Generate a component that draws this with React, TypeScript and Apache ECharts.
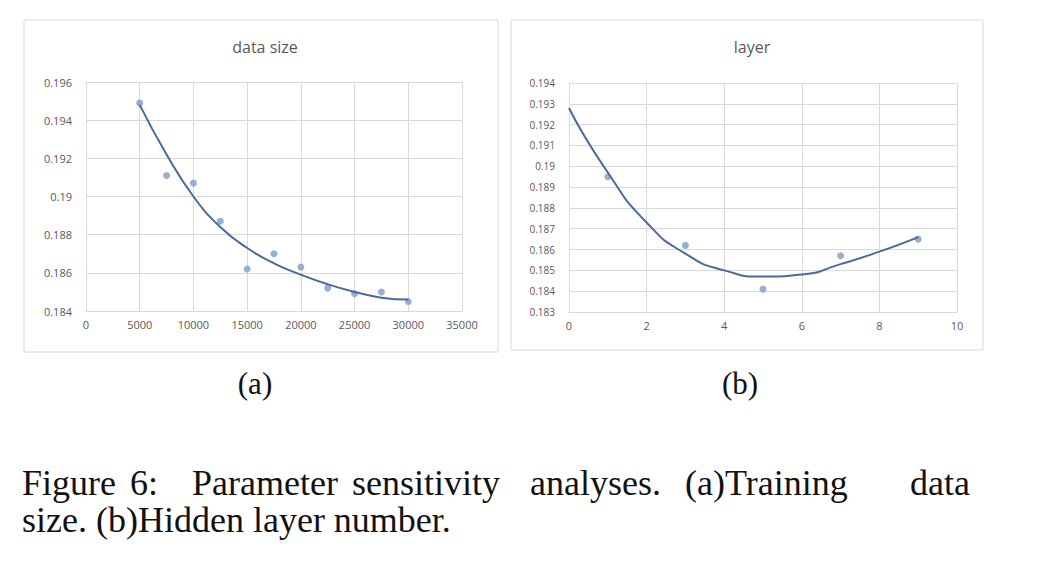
import React, { useEffect, useRef } from "react";
import * as echarts from "echarts";

// (a) data size
const sizeX = [5000, 7500, 10000, 12500, 15000, 17500, 20000, 22500, 25000, 27500, 30000];
const sizeY = [0.1949, 0.1911, 0.1907, 0.1887, 0.1862, 0.187, 0.1863, 0.1852, 0.1849, 0.185, 0.1845];
const sizeTrend = [0.1948, 0.1922, 0.19, 0.1884, 0.1873, 0.1865, 0.1859, 0.1854, 0.185, 0.1847, 0.1846];

// (b) layer
const layerX = [1, 3, 5, 7, 9];
const layerY = [0.1895, 0.1862, 0.1841, 0.1857, 0.1865];
const layerTrendX = [0, 1, 2, 3, 4, 5, 6, 7, 8, 9];
const layerTrend = [0.1928, 0.1897, 0.1873, 0.1858, 0.185, 0.1847, 0.1848, 0.1853, 0.1859, 0.1866];

// caption first line, justified word by word
const captionWords = ["Figure", "6:", "Parameter", "sensitivity", "analyses.", "(a)Training", "data"];
const captionX = [22, 130, 192, 352, 530, 685, 910];

const LABEL = "#595959";
const GRIDLINE = "#d9d9d9";
const DOT = "#7f9ccb";
const TREND = "#4a6a9e";
const SERIF = "36px 'Liberation Serif'";

export default function App() {
  const ref = useRef<HTMLDivElement>(null);

  useEffect(() => {
    if (!ref.current) return;
    const chart = echarts.init(ref.current, undefined, { renderer: "svg" });
    const axisCommon = {
      type: "value" as const,
      axisLine: { show: false },
      axisTick: { show: false },
      splitLine: { lineStyle: { color: GRIDLINE } },
      axisLabel: { color: LABEL, fontFamily: "Open Sans", fontSize: 11, formatter: (v: number) => String(v) },
    };
    const xAxisCommon = {
      ...axisCommon,
      axisLine: { show: true, lineStyle: { color: GRIDLINE } },
    };
    const titleStyle = { color: LABEL, fontFamily: "Open Sans", fontWeight: "normal" as const, fontSize: 16 };
    chart.setOption({
      animation: false,
      backgroundColor: "#fff",
      title: [
        { text: "data size", left: 260, top: 34, textAlign: "center", textStyle: titleStyle },
        { text: "layer", left: 747, top: 34, textAlign: "center", textStyle: titleStyle },
      ],
      grid: [
        { left: 86, top: 82, width: 376, height: 229 },
        { left: 569, top: 83, width: 388, height: 229 },
      ],
      xAxis: [
        { ...xAxisCommon, gridIndex: 0, min: 0, max: 35000, interval: 5000 },
        { ...xAxisCommon, gridIndex: 1, min: 0, max: 10, interval: 2 },
      ],
      yAxis: [
        { ...axisCommon, gridIndex: 0, min: 0.184, max: 0.196, interval: 0.002, axisLabel: { ...axisCommon.axisLabel, margin: 14 } },
        { ...axisCommon, gridIndex: 1, min: 0.183, max: 0.194, interval: 0.001, axisLabel: { ...axisCommon.axisLabel, fontSize: 10, margin: 14 } },
      ],
      series: [
        {
          type: "line", xAxisIndex: 0, yAxisIndex: 0, smooth: true, showSymbol: false,
          lineStyle: { color: TREND, width: 2 },
          data: sizeX.map((x, i) => [x, sizeTrend[i]]),
        },
        {
          type: "scatter", xAxisIndex: 0, yAxisIndex: 0, symbolSize: 7,
          itemStyle: { color: DOT },
          data: sizeX.map((x, i) => [x, sizeY[i]]),
        },
        {
          type: "line", xAxisIndex: 1, yAxisIndex: 1, smooth: 0.6, showSymbol: false,
          lineStyle: { color: TREND, width: 2 },
          data: layerTrendX.map((x, i) => [x, layerTrend[i]]),
        },
        {
          type: "scatter", xAxisIndex: 1, yAxisIndex: 1, symbolSize: 7,
          itemStyle: { color: DOT },
          data: layerX.map((x, i) => [x, layerY[i]]),
        },
      ],
      graphic: [
        { type: "rect", shape: { x: 24, y: 20, width: 474, height: 332 }, style: { fill: "none", stroke: "#d9d9d9", lineWidth: 1 }, z: -1 },
        { type: "rect", shape: { x: 511, y: 20, width: 472, height: 330 }, style: { fill: "none", stroke: "#d9d9d9", lineWidth: 1 }, z: -1 },
        { type: "text", x: 255, y: 383, style: { text: "(a)", font: "31px 'Liberation Serif'", fill: "#111", align: "center", verticalAlign: "middle" } },
        { type: "text", x: 740, y: 383, style: { text: "(b)", font: "31px 'Liberation Serif'", fill: "#111", align: "center", verticalAlign: "middle" } },
        ...captionWords.map((w, i) => ({
          type: "text", x: captionX[i], y: 483,
          style: { text: w, font: SERIF, fill: "#111", verticalAlign: "middle" },
        })),
        { type: "text", x: 22, y: 520, style: { text: "size. (b)Hidden layer number.", font: SERIF, fill: "#111", verticalAlign: "middle" } },
      ],
    });
    return () => chart.dispose();
  }, []);

  return <div ref={ref} style={{ position: "absolute", left: 0, top: 0, width: 1056, height: 572 }} />;
}
